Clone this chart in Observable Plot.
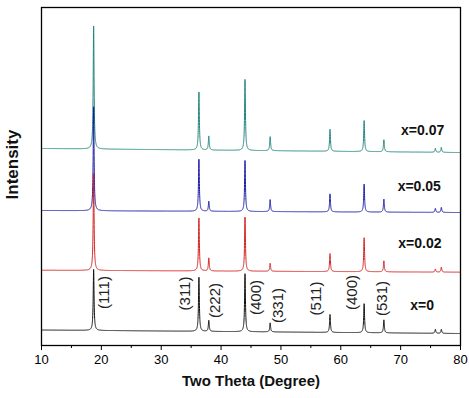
<!DOCTYPE html>
<html><head><meta charset="utf-8">
<script src="https://cdn.jsdelivr.net/npm/d3@7"></script>
<script src="https://cdn.jsdelivr.net/npm/@observablehq/plot@0.6"></script>
<style>body{margin:0;background:#fff;font-family:"Liberation Sans",Arial,sans-serif}</style>
</head><body><div id="chart"></div>
<script>
// Peak positions (2θ, degrees)
const peakPositions = [18.71, 36.3, 37.95, 44.0, 48.2, 58.2, 63.9, 67.2, 75.8, 76.8];
// Series (drawn in this order)
const seriesNames  = ["x=0.07", "x=0.05", "x=0.02", "x=0"];
const seriesColors = ["#22857d", "#1a1aa6", "#d42020", "#111111"];
// Peak heights (a.u.) for each series, same order as peakPositions
const heightsX007 = [1230, 580, 140, 710, 140, 220, 310, 120, 40, 50];
const heightsX005 = [1040, 520, 100, 510, 120, 180, 280, 130, 40, 50];
const heightsX002 = [ 970, 530, 130, 540,  80, 180, 340, 110, 30, 50];
const heightsX0   = [ 610, 540, 110, 580,  90, 180, 290, 130, 40, 40];
// Background level (a.u., stacked offset included) at 2θ = 10 and 2θ = 80
const backgroundAt = [10, 80];
const backgroundX007 = [1970, 1930];
const backgroundX005 = [1350, 1330];
const backgroundX002 = [ 753,  733];
const backgroundX0   = [ 155,  120];
// Annotations
const millerLabels = ["(111)", "(311)", "(222)", "(400)", "(331)", "(511)", "(400)", "(531)"];
const millerTheta  = [20.5, 34.07, 39.1, 45.8, 49.5, 55.95, 61.85, 66.85];
const millerLevel  = [530, 520, 450, 480, 400, 470, 530, 470];
const seriesLabelTheta = [70.07, 69.5, 69.6, 71.6];
const seriesLabelLevel = [2150, 1590, 1020, 400];
const xTicks = [10, 20, 30, 40, 50, 60, 70, 80];
const xMinorTicks = [15, 25, 35, 45, 55, 65, 75];

const heights = [heightsX007, heightsX005, heightsX002, heightsX0];
const backgrounds = [backgroundX007, backgroundX005, backgroundX002, backgroundX0];
const hwhm = 0.085;

function trace(k) {
  const pts = [];
  const [b0, b1] = backgrounds[k];
  for (let i = 0; i <= 7000; i++) {
    const t = Math.round((10 + i * 0.01) * 100) / 100;
    let v = b0 + (b1 - b0) * (t - backgroundAt[0]) / (backgroundAt[1] - backgroundAt[0]);
    peakPositions.forEach((p, j) => {
      const d = (t - p) / hwhm;
      v += heights[k][j] / (1 + d * d);
    });
    pts.push({t, v});
  }
  return pts;
}

const millerData = millerLabels.map((s, i) => ({s, t: millerTheta[i], v: millerLevel[i]}));
const seriesLabelData = seriesNames.map((s, i) => ({s, t: seriesLabelTheta[i], v: seriesLabelLevel[i]}));

const font = "'Liberation Sans', Arial, sans-serif";
const chart = Plot.plot({
  width: 469, height: 398,
  marginLeft: 41, marginRight: 9, marginTop: 7, marginBottom: 53,
  style: {fontFamily: font, background: "#fff", color: "#000"},
  x: {domain: [10, 80], label: null},
  y: {domain: [0, 3380], axis: null, label: null},
  marks: [
    ...seriesNames.map((n, k) => Plot.line(trace(k), {x: "t", y: "v", stroke: seriesColors[k], strokeWidth: 1})),
    Plot.frame({stroke: "#000", strokeWidth: 1.3}),
    Plot.axisX({ticks: xTicks, tickSize: 5, tickPadding: 4, fontSize: 13, label: null, tickFormat: d => String(d)}),
    Plot.axisX({ticks: xMinorTicks, tickSize: 3, label: null, tickFormat: () => ""}),
    Plot.text(millerData, {x: "t", y: "v", text: "s", rotate: -90, fontSize: 15, fill: "#222"}),
    Plot.text(seriesLabelData, {x: "t", y: "v", text: "s", textAnchor: "start", fontSize: 14, fontWeight: "bold", fill: "#111"}),
    Plot.text(["Two Theta (Degree)"], {frameAnchor: "bottom", textAnchor: "middle", dy: 40, fontSize: 15, fontWeight: "bold", fill: "#111"}),
    Plot.text(["Intensity"], {frameAnchor: "left", textAnchor: "middle", dx: -29, dy: -12, rotate: -90, fontSize: 17, fontWeight: "bold", fill: "#111"})
  ]
});
document.getElementById("chart").appendChild(chart);
</script>
</body></html>
